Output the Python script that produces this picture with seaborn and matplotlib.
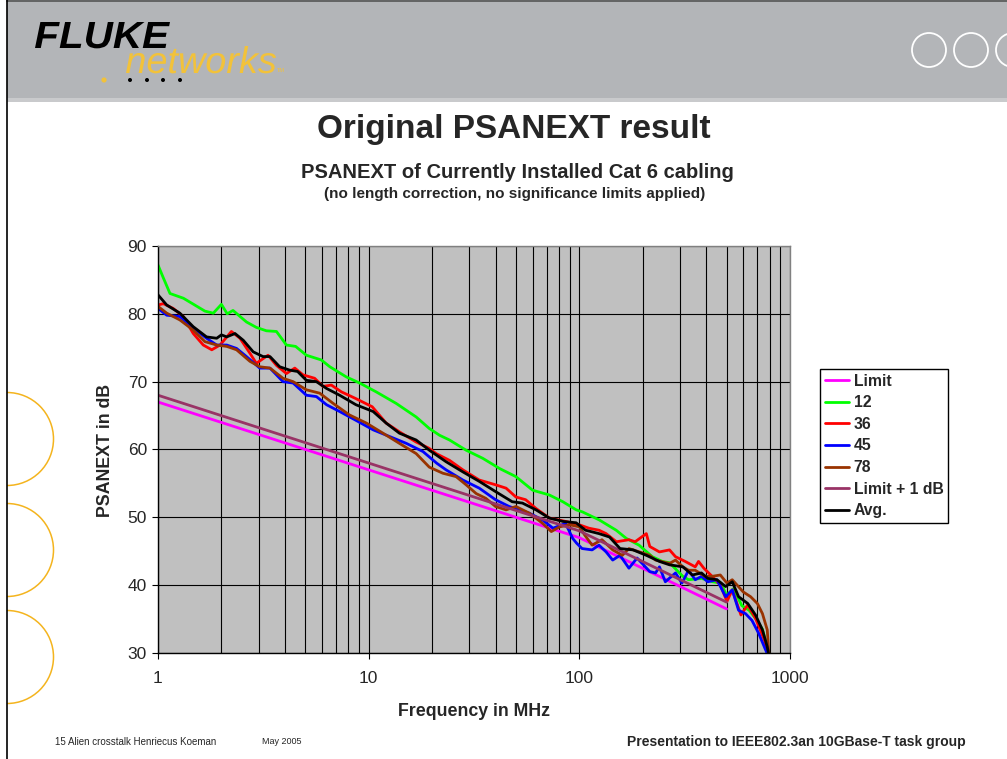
import numpy as np
import pandas as pd
import matplotlib
matplotlib.use("Agg")
import matplotlib.pyplot as plt
from matplotlib.patches import Rectangle, Circle, Arc, PathPatch
from matplotlib.textpath import TextPath
from matplotlib.font_manager import FontProperties
from matplotlib.transforms import Affine2D
from matplotlib.ticker import LogLocator, NullFormatter
import seaborn as sns

sns.set_style("white")
plt.rcParams["font.family"] = ["Liberation Sans", "DejaVu Sans"]

# frequency (MHz), PSANEXT (dB)
limit = [(1, 67.0), (100, 47.0), (500, 36.5)]
limit_1db = [(1, 68.0), (100, 48.0), (500, 37.5)]

pair_12 = [(1, 87.2), (1.06, 85.3), (1.14, 83.0), (1.32, 82.3), (1.67, 80.4), (1.83, 80.1),
           (2.0, 81.4), (2.13, 80.0), (2.27, 80.5), (2.63, 78.8), (2.93, 78.0), (3.27, 77.5),
           (3.65, 77.4), (4.07, 75.4), (4.5, 75.2), (5.06, 73.9), (5.96, 73.2), (6.54, 72.2),
           (7.83, 70.7), (9.06, 69.8), (10.85, 68.5), (13.5, 66.8), (16.8, 64.8), (19.4, 63.1),
           (21.7, 62.1), (24.2, 61.4), (29, 59.9), (34.8, 58.7), (41.8, 57.2), (50, 56.0),
           (60, 54.0), (72, 53.3), (83.5, 52.3), (96.7, 51.1), (103.5, 50.8), (124.6, 49.6),
           (149.6, 48.1), (167, 46.9), (192, 45.9), (222, 44.2), (248, 43.5), (268, 43.3),
           (310, 41.3), (330, 40.8), (380, 41.0), (430, 40.5), (470, 40.3), (500, 38.5),
           (540, 39.5), (590, 37.0), (640, 36.3), (690, 35.0), (740, 33.5), (800, 29.5)]

pair_36 = [(1, 81.3), (1.06, 81.5), (1.18, 80.8), (1.32, 79.6), (1.47, 77.1), (1.64, 75.4),
           (1.80, 74.7), (1.97, 75.4), (2.23, 77.4), (2.45, 76.4), (2.73, 74.2), (2.93, 72.7),
           (3.33, 73.9), (3.65, 72.4), (4.07, 71.2), (4.46, 72.0), (4.88, 71.0), (5.54, 70.5),
           (6.07, 69.3), (6.65, 69.5), (7.42, 68.5), (8.7, 67.5), (10.4, 66.3), (12.1, 63.9),
           (14.0, 62.6), (16.8, 61.1), (19.3, 60.2), (20.9, 59.4), (24.2, 58.4), (28, 57.0),
           (33.5, 55.5), (40, 54.8), (44.9, 54.3), (50, 53.0), (55.6, 52.6), (62.3, 51.3),
           (72, 49.9), (86, 49.4), (100, 48.9), (111, 48.4), (124, 48.1), (134, 47.6),
           (150, 46.4), (172, 46.7), (184, 46.4), (208, 47.6), (216, 45.7), (240, 44.9),
           (268, 45.2), (286, 44.2), (318, 43.5), (355, 42.7), (368, 43.5), (390, 42.5),
           (427, 41.3), (467, 40.0), (502, 37.6), (532, 39.3), (585, 35.6), (630, 37.1),
           (686, 35.1), (756, 31.9), (790, 29.5)]

pair_45 = [(1, 80.8), (1.1, 79.8), (1.27, 79.6), (1.47, 77.9), (1.70, 76.4), (1.90, 75.4),
           (2.12, 75.4), (2.36, 74.9), (2.63, 73.7), (3.04, 72.0), (3.40, 72.0), (3.92, 70.0),
           (4.38, 69.8), (5.06, 68.0), (5.65, 67.8), (6.31, 66.6), (7.28, 65.6), (8.7, 64.3),
           (10.5, 62.9), (12.6, 61.9), (15.1, 60.9), (18.1, 59.7), (21, 58.0), (23.3, 57.0),
           (28, 55.5), (33.5, 54.3), (40, 52.6), (46.4, 51.6), (52, 51.1), (58, 50.6),
           (67, 49.6), (75, 48.4), (86, 49.1), (93, 46.9), (97, 46.2), (103, 45.4),
           (115, 45.2), (124, 45.9), (134, 44.9), (144, 43.7), (156, 44.4), (172, 42.5),
           (188, 44.0), (216, 42.0), (230, 41.8), (240, 42.7), (256, 40.5), (286, 41.8),
           (307, 40.3), (330, 42.2), (355, 40.8), (380, 41.3), (407, 40.5), (450, 40.8),
           (495, 38.3), (532, 39.3), (570, 36.3), (615, 35.8), (660, 34.8), (710, 32.9),
           (760, 30.7), (790, 29.5)]

pair_78 = [(1, 81.1), (1.1, 80.1), (1.27, 79.1), (1.47, 77.6), (1.67, 75.9), (1.9, 75.4),
           (2.12, 75.2), (2.36, 74.7), (2.73, 73.0), (3.04, 72.2), (3.40, 72.0), (3.92, 70.5),
           (4.38, 70.0), (5.06, 68.8), (5.86, 68.3), (6.78, 66.8), (8.1, 65.1), (9.75, 63.9),
           (11.7, 62.4), (14, 60.9), (16.8, 59.4), (19.4, 57.4), (22.5, 56.5), (26, 56.0),
           (29, 54.8), (32.4, 53.5), (36, 52.8), (40, 51.6), (44.9, 51.1), (50, 51.6),
           (58, 50.6), (67, 49.1), (73.6, 47.9), (80.6, 48.6), (90, 48.9), (100, 48.6),
           (106, 47.4), (115, 45.9), (128, 46.7), (144, 45.2), (160, 44.4), (172, 45.4),
           (193, 44.9), (216, 44.4), (230, 43.7), (268, 43.2), (286, 43.7), (310, 42.7),
           (330, 42.2), (355, 42.2), (395, 41.3), (427, 41.3), (467, 41.5), (502, 40.3),
           (532, 40.8), (600, 39.0), (650, 38.3), (700, 37.3), (740, 35.8), (780, 33.4),
           (795, 29.5)]

pair_avg = [(1, 82.8), (1.1, 81.3), (1.27, 80.1), (1.47, 78.1), (1.70, 76.6), (1.90, 76.4),
            (2.0, 76.9), (2.12, 76.6), (2.32, 77.1), (2.54, 76.1), (2.83, 74.4), (3.15, 73.7),
            (3.40, 73.7), (3.78, 72.2), (4.22, 71.7), (4.6, 71.5), (5.06, 70.2), (5.65, 70.0),
            (6.31, 69.0), (7.28, 68.0), (8.7, 66.6), (10.5, 65.6), (12.1, 63.9), (14, 62.4),
            (16.8, 61.4), (19.4, 59.9), (23.3, 58.2), (28, 56.7), (33.5, 55.3), (40, 53.8),
            (48, 52.3), (53.7, 52.1), (62.3, 51.1), (72, 49.9), (83.5, 49.4), (96.5, 49.2),
            (107, 48.1), (124, 47.6), (139, 47.1), (156, 45.4), (180, 45.2), (208, 44.4),
            (240, 43.5), (268, 43.0), (310, 42.7), (344, 41.5), (380, 41.8), (407, 41.0),
            (450, 40.8), (495, 39.8), (532, 40.5), (570, 38.3), (630, 37.3), (686, 35.6),
            (740, 33.4), (780, 30.9), (795, 29.5)]

series = {"Limit": limit, "12": pair_12, "36": pair_36, "45": pair_45,
          "78": pair_78, "Limit + 1 dB": limit_1db, "Avg.": pair_avg}
colors = {"Limit": "#FF00FF", "12": "#00FF00", "36": "#FF0000", "45": "#0000FF",
          "78": "#993300", "Limit + 1 dB": "#993366", "Avg.": "#000000"}

df = pd.concat([pd.DataFrame(v, columns=["freq", "db"]).assign(cable=k)
                for k, v in series.items()], ignore_index=True)

fig = plt.figure(figsize=(10.07, 7.59), dpi=100)

# slide decoration, in pixel coordinates
bg = fig.add_axes([0, 0, 1, 1])
bg.set_xlim(0, 1007)
bg.set_ylim(759, 0)
bg.axis("off")
bg.add_patch(Rectangle((7, 0), 1000, 100, color="#B3B5B8", lw=0))
bg.add_patch(Rectangle((7, 98), 1000, 4, color="#C9CACC", lw=0))
bg.plot([7, 1007], [1, 1], color="#555555", lw=1.2)
bg.plot([7, 7], [0, 759], color="black", lw=1.2)
for cx in (929, 971, 1013):
    bg.add_patch(Circle((cx, 50), 17, fill=False, ec="white", lw=1.3))
for cy in (439, 550, 657):
    bg.add_patch(Arc((7, cy), 93, 93, theta1=-90, theta2=90, ec="#F4B41E", lw=1.1))


def logo_text(s, x0, x1, y_top, y_base, color, **font):
    # stretch a word into a pixel box (y axis of bg is flipped)
    tp = TextPath((0, 0), s, size=1, prop=FontProperties(family="Liberation Sans", **font))
    ext = tp.get_extents()
    sx = (x1 - x0) / ext.width
    sy = (y_base - y_top) / ext.y1
    tr = Affine2D().translate(-ext.x0, 0).scale(sx, -sy).translate(x0, y_base)
    bg.add_patch(PathPatch(tr.transform_path(tp), color=color, lw=0))


logo_text("FLUKE", 35, 170, 22, 48, "black", weight="bold", style="italic")
logo_text("networks", 126, 276, 46, 73, "#F2C23A", style="italic")
bg.text(277, 71, "TM", fontsize=4, color="#F2C23A", va="center")
bg.add_patch(Circle((104, 80), 2.6, color="#F2C23A", lw=0))
for dx in (130, 147, 163, 180):
    bg.add_patch(Circle((dx, 80), 2.0, color="black", lw=0))

fig.text(0.51, 0.829, "Original PSANEXT result", fontsize=24, fontweight="bold",
         ha="center", va="center")
fig.text(0.514, 0.773, "PSANEXT of Currently Installed Cat 6 cabling", fontsize=14.5,
         fontweight="bold", ha="center", va="center")
fig.text(0.511, 0.744, "(no length correction, no significance limits applied)", fontsize=11,
         fontweight="bold", ha="center", va="center")

ax = fig.add_axes([158 / 1007, 1 - 653 / 759, 632 / 1007, 407 / 759])
ax.set_facecolor("#C0C0C0")
sns.lineplot(data=df, x="freq", y="db", hue="cable", hue_order=list(series),
             palette=colors, estimator=None, sort=False, lw=2.0, ax=ax)
ax.set_xscale("log")
ax.set_xlim(1, 1000)
ax.set_ylim(30, 90)
ax.set_xticks([1, 10, 100, 1000], labels=["1", "10", "100", "1000"])
ax.xaxis.set_minor_locator(LogLocator(base=10, subs=np.arange(2, 10)))
ax.xaxis.set_minor_formatter(NullFormatter())
ax.set_yticks(np.arange(30, 91, 10))
ax.grid(which="both", axis="x", color="black", lw=0.8)
ax.grid(which="major", axis="y", color="black", lw=0.8)
ax.set_axisbelow(True)
ax.tick_params(axis="both", which="major", labelsize=12.5, direction="out",
               length=4, width=0.8, color="black")
ax.tick_params(axis="x", which="minor", length=0)
ax.tick_params(axis="x", pad=9)
ax.tick_params(axis="y", pad=4, left=True)
ax.tick_params(axis="x", bottom=True)
for side in ("left", "bottom"):
    ax.spines[side].set_color("black")
    ax.spines[side].set_linewidth(1.0)
for side in ("top", "right"):
    ax.spines[side].set_color("#808080")
    ax.spines[side].set_linewidth(1.0)
ax.set_xlabel("")
ax.set_ylabel("")

handles, labels = ax.get_legend_handles_labels()
ax.get_legend().remove()
leg = fig.legend(handles, labels, loc="upper left", bbox_to_anchor=(820 / 1007, 1 - 369 / 759),
                 frameon=True, fancybox=False, framealpha=1, edgecolor="black",
                 prop={"weight": "bold", "size": 11.3}, handlelength=1.55, handletextpad=0.3,
                 labelspacing=0.42, borderpad=0.3, borderaxespad=0)
leg.get_frame().set_linewidth(1.0)

fig.text(105 / 1007, 1 - 450 / 759, "PSANEXT in dB", rotation=90, fontsize=12.8,
         fontweight="bold", ha="center", va="center")
fig.text(474 / 1007, 1 - 711 / 759, "Frequency in MHz", fontsize=12.8, fontweight="bold",
         ha="center", va="center")

fig.text(55 / 1007, 1 - 742 / 759, "15 Alien crosstalk Henriecus Koeman", fontsize=7,
         ha="left", va="center", family=["Liberation Sans Narrow", "Liberation Sans"])
fig.text(262 / 1007, 1 - 742 / 759, "May 2005", fontsize=6.5,
         ha="left", va="center", family=["Liberation Sans Narrow", "Liberation Sans"])
fig.text(966 / 1007, 1 - 742 / 759, "Presentation to IEEE802.3an 10GBase-T task group",
         fontsize=10, fontweight="bold", ha="right", va="center")

fig.savefig("out.png", dpi=100)
